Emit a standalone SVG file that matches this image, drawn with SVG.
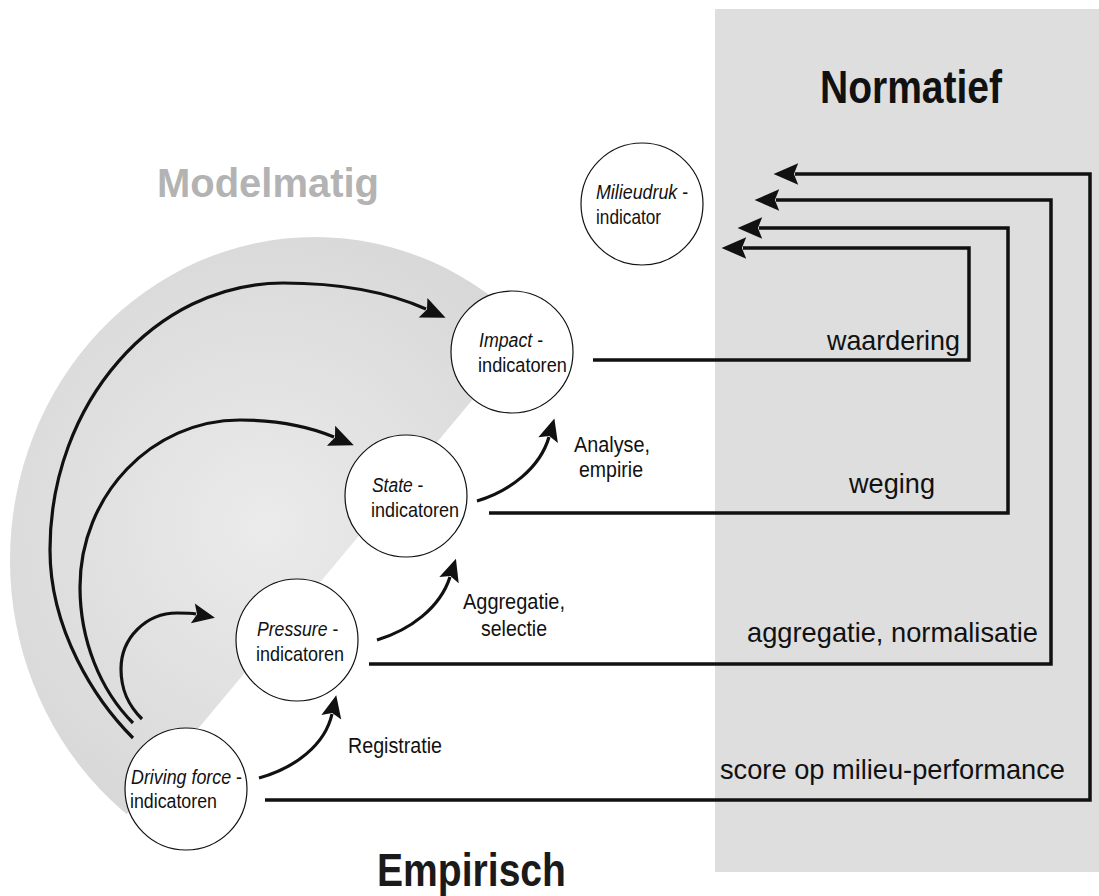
<svg xmlns="http://www.w3.org/2000/svg" width="1099" height="896" viewBox="0 0 1099 896">
<defs>
<radialGradient id="diskGrad" gradientUnits="userSpaceOnUse" cx="266" cy="526" r="315">
<stop offset="0" stop-color="#ebebeb"/>
<stop offset="1" stop-color="#d8d8d8"/>
</radialGradient>
<clipPath id="diskClip">
<polygon points="-100,1086 800,7 800,-100 -100,-100"/>
</clipPath>
<marker id="arr" markerUnits="userSpaceOnUse" markerWidth="30" markerHeight="30" refX="3" refY="0" viewBox="-2 -12 28 24" orient="auto" overflow="visible">
<path d="M0,-10 L23,0 L0,10 L4,0 Z" fill="#111"/>
</marker>
<marker id="arrS" markerUnits="userSpaceOnUse" markerWidth="30" markerHeight="30" refX="3" refY="0" viewBox="-2 -12 28 24" orient="auto" overflow="visible">
<path d="M0,-9.5 L21,0 L0,9.5 L4,0 Z" fill="#111"/>
</marker>
</defs>
<style>
.node{fill:#fff;stroke:#111;stroke-width:1.2}
.nt{font-family:"Liberation Sans",Arial,sans-serif;font-size:21px;fill:#111}
.it{font-style:italic}
.lbl{font-family:"Liberation Sans",Arial,sans-serif;font-size:22px;fill:#111}
.big{font-family:"Liberation Sans",Arial,sans-serif;font-size:28px;fill:#111}
.title{font-family:"Liberation Sans",Arial,sans-serif;font-weight:bold}
.conn{fill:none;stroke:#111;stroke-width:3.5;stroke-linejoin:miter}
.curve{fill:none;stroke:#111;stroke-width:3.2;stroke-linecap:butt}
</style>

<rect id="panel-normatief" x="715" y="9" width="384" height="863" fill="#dedede"/>
<ellipse id="disk-modelmatig" cx="315" cy="560" rx="305" ry="323" fill="url(#diskGrad)" clip-path="url(#diskClip)"/>

<text class="title" x="820" y="103" font-size="47" fill="#111" textLength="182" lengthAdjust="spacingAndGlyphs">Normatief</text>
<text class="title" x="157" y="197" font-size="40" fill="#b3b3b3" textLength="222" lengthAdjust="spacingAndGlyphs">Modelmatig</text>
<text class="title" x="377" y="886" font-size="46" fill="#1a1a1a" textLength="189" lengthAdjust="spacingAndGlyphs">Empirisch</text>

<g id="connectors">
<path class="conn" d="M265,800 H1090 V174 H795" marker-end="url(#arr)"/>
<path class="conn" d="M369,664 H1051 V200 H776" marker-end="url(#arr)"/>
<path class="conn" d="M489,513 H1008 V228 H759" marker-end="url(#arr)"/>
<path class="conn" d="M593,360 H969 V248 H743" marker-end="url(#arr)"/>
<path class="curve" d="M133,738 C95,700 50,630 50,550 C50,403 155,283 283,283 C340,283 390,293 426,309" marker-end="url(#arr)"/>
<path class="curve" d="M133,723 C100,690 80,640 80,587 C80,495 152,420 240,420 C280,420 310,427 334,437" marker-end="url(#arr)"/>
<path class="curve" d="M142,719 C128,705 121,690 121,669 C121,638 146,613 177,613 C185,613 191,613 196,614" marker-end="url(#arrS)"/>
<path class="curve" d="M259,778 C295,768 325,745 332,714" marker-end="url(#arrS)"/>
<path class="curve" d="M377,640 C410,630 440,608 450,577" marker-end="url(#arrS)"/>
<path class="curve" d="M477,501 C510,491 540,468 549,437" marker-end="url(#arrS)"/>
</g>

<g id="labels">
<text class="lbl" x="348" y="753" textLength="94" lengthAdjust="spacingAndGlyphs">Registratie</text>
<text class="lbl" x="463" y="609" textLength="102" lengthAdjust="spacingAndGlyphs">Aggregatie,</text>
<text class="lbl" x="481" y="636" textLength="66" lengthAdjust="spacingAndGlyphs">selectie</text>
<text class="lbl" x="574" y="452" textLength="76" lengthAdjust="spacingAndGlyphs">Analyse,</text>
<text class="lbl" x="579" y="477" textLength="64" lengthAdjust="spacingAndGlyphs">empirie</text>
<text class="big" x="827" y="350" textLength="133" lengthAdjust="spacingAndGlyphs">waardering</text>
<text class="big" x="849" y="493" textLength="86" lengthAdjust="spacingAndGlyphs">weging</text>
<text class="big" x="747" y="642" textLength="291" lengthAdjust="spacingAndGlyphs">aggregatie, normalisatie</text>
<text class="big" x="720" y="779" textLength="345" lengthAdjust="spacingAndGlyphs">score op milieu-performance</text>
</g>

<g id="node-milieudruk">
<circle class="node" cx="642" cy="204" r="61"/>
<text class="nt" transform="translate(596,199) scale(0.85,1)"><tspan class="it">Milieudruk</tspan> -</text>
<text class="nt" transform="translate(596,224) scale(0.82,1)">indicator</text>
</g>
<g id="node-impact">
<circle class="node" cx="512" cy="352" r="61"/>
<text class="nt" transform="translate(479,347) scale(0.845,1)"><tspan class="it">Impact</tspan> -</text>
<text class="nt" transform="translate(478,372) scale(0.865,1)">indicatoren</text>
</g>
<g id="node-state">
<circle class="node" cx="406" cy="496" r="61"/>
<text class="nt" transform="translate(372,492) scale(0.83,1)"><tspan class="it">State</tspan> -</text>
<text class="nt" transform="translate(371,517) scale(0.857,1)">indicatoren</text>
</g>
<g id="node-pressure">
<circle class="node" cx="297" cy="640" r="61"/>
<text class="nt" transform="translate(257,636) scale(0.84,1)"><tspan class="it">Pressure</tspan> -</text>
<text class="nt" transform="translate(256,661) scale(0.857,1)">indicatoren</text>
</g>
<g id="node-driving">
<circle class="node" cx="186" cy="789" r="61"/>
<text class="nt" transform="translate(131,784) scale(0.85,1)"><tspan class="it">Driving force</tspan> -</text>
<text class="nt" transform="translate(130,808) scale(0.847,1)">indicatoren</text>
</g>
</svg>
